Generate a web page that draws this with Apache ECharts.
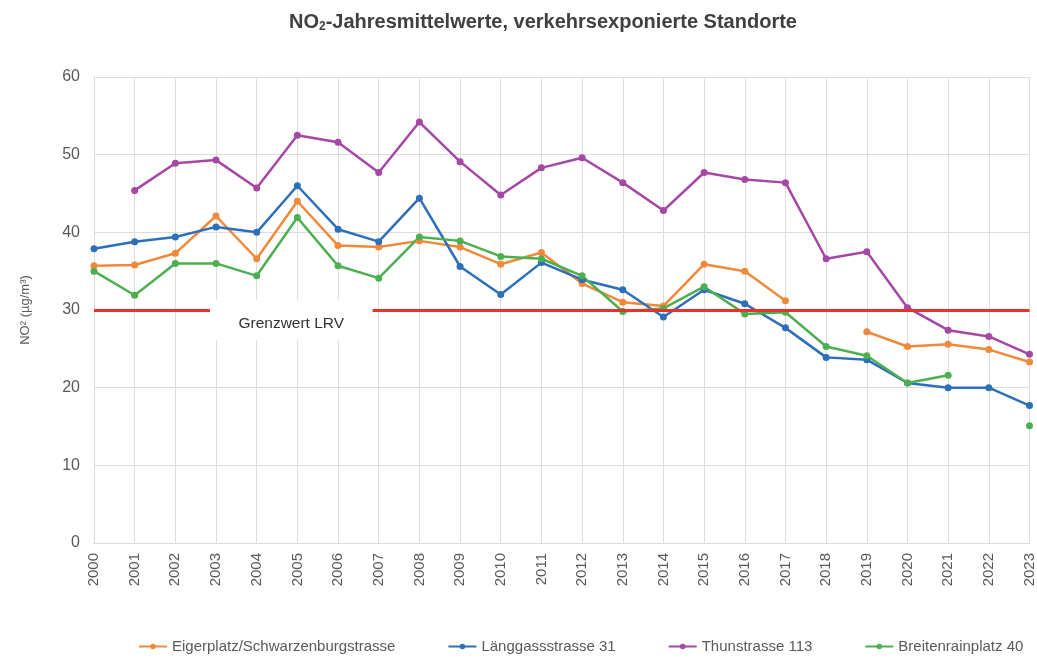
<!DOCTYPE html>
<html>
<head>
<meta charset="utf-8">
<script src="https://cdn.jsdelivr.net/npm/echarts@6/dist/echarts.min.js"></script>
<style>
  html, body { margin: 0; padding: 0; background: #fff; }
  #chart { width: 1037px; height: 662px; }
</style>
</head>
<body>
<div id="chart"></div>
<script>
  // Jahre
  var years = ['2000','2001','2002','2003','2004','2005','2006','2007','2008','2009','2010','2011',
               '2012','2013','2014','2015','2016','2017','2018','2019','2020','2021','2022','2023'];

  var eigerplatz = [35.7, 35.8, 37.3, 42.1, 36.6, 44.0, 38.3, 38.1, 38.9, 38.1, 35.9, 37.4,
                    33.4, 31.0, 30.5, 35.9, 35.0, 31.2, null, 27.2, 25.3, 25.6, 24.9, 23.3];
  var laenggasse = [37.9, 38.8, 39.4, 40.7, 40.0, 46.0, 40.4, 38.8, 44.4, 35.6, 32.0, 36.1,
                    33.9, 32.6, 29.1, 32.6, 30.8, 27.7, 23.9, 23.6, 20.6, 20.0, 20.0, 17.7];
  var thun = [null, 45.4, 48.9, 49.3, 45.7, 52.5, 51.6, 47.7, 54.2, 49.1, 44.8, 48.3,
              49.6, 46.4, 42.8, 47.7, 46.8, 46.4, 36.6, 37.5, 30.3, 27.4, 26.6, 24.3];
  var breitenrain = [35.0, 31.9, 36.0, 36.0, 34.4, 41.9, 35.7, 34.1, 39.4, 38.9, 36.9, 36.6,
                     34.4, 29.8, 30.2, 33.0, 29.5, 29.7, 25.3, 24.1, 20.6, 21.6, null, 15.1];

  var grenzwert = 30;
  var yTicks = [0, 10, 20, 30, 40, 50, 60];

  var chart = echarts.init(document.getElementById('chart'));

  function serie(name, data, color) {
    return {
      name: name,
      type: 'line',
      data: data,
      connectNulls: false,
      symbol: 'circle',
      symbolSize: 7,
      lineStyle: { width: 2.5, color: color },
      itemStyle: { color: color },
      z: 3
    };
  }

  var option = {
    animation: false,
    backgroundColor: '#fff',
    textStyle: { fontFamily: 'Liberation Sans, Arial, sans-serif' },
    title: {
      text: '{a|NO}{s|2}{a|-Jahresmittelwerte, verkehrsexponierte Standorte}',
      left: 284,
      top: 6,
      textStyle: {
        rich: {
          a: { fontSize: 20, fontWeight: 'bold', color: '#404040', fontFamily: 'Liberation Sans' },
          s: { fontSize: 12, fontWeight: 'bold', color: '#404040', verticalAlign: 'bottom', padding: [10, 0, 0, 0], fontFamily: 'Liberation Sans' }
        }
      }
    },
    grid: { left: 94, right: 7, top: 77, bottom: 119 },
    legend: {
      bottom: 8,
      left: 138,
      width: 899,
      padding: 0,
      itemGap: 52,
      itemWidth: 28,
      itemHeight: 7,
      textStyle: { fontSize: 15, color: '#595959' },
      data: ['Eigerplatz/Schwarzenburgstrasse', 'Länggassstrasse 31', 'Thunstrasse 113', 'Breitenrainplatz 40']
    },
    xAxis: {
      type: 'category',
      data: years,
      boundaryGap: false,
      axisLine: { lineStyle: { color: '#d9d9d9' } },
      axisTick: { show: false },
      splitLine: { show: true, lineStyle: { color: '#e0dcdc' } },
      axisLabel: { rotate: 90, color: '#595959', fontSize: 15, margin: 10 }
    },
    yAxis: {
      type: 'value',
      min: yTicks[0],
      max: yTicks[yTicks.length - 1],
      interval: 10,
      name: 'NO² (µg/m³)',
      nameLocation: 'middle',
      nameGap: 62,
      nameTextStyle: { color: '#595959', fontSize: 13 },
      axisLine: { show: true, lineStyle: { color: '#d9d9d9' } },
      axisTick: { show: false },
      splitLine: { lineStyle: { color: '#e0dcdc' } },
      axisLabel: { color: '#595959', fontSize: 16, margin: 14 }
    },
    series: [
      {
        name: 'Grenzwert',
        type: 'line',
        data: [],
        markLine: {
          silent: true,
          symbol: 'none',
          label: { show: false },
          lineStyle: { color: '#e8312a', width: 3, type: 'solid' },
          data: [[{ coord: [years[0], grenzwert] }, { coord: [years[years.length - 1], grenzwert] }]]
        },
        z: 2
      },
      serie('Eigerplatz/Schwarzenburgstrasse', eigerplatz, '#f08a3a'),
      serie('Länggassstrasse 31', laenggasse, '#2e6fba'),
      serie('Thunstrasse 113', thun, '#a547a5'),
      serie('Breitenrainplatz 40', breitenrain, '#4caf50')
    ]
  };
  chart.setOption(option);

  // weisses Feld mit Beschriftung über der Grenzwertlinie
  var p0 = chart.convertToPixel({ xAxisIndex: 0, yAxisIndex: 0 }, [2, grenzwert]);
  var p1 = chart.convertToPixel({ xAxisIndex: 0, yAxisIndex: 0 }, [3, grenzwert]);
  var step = p1[0] - p0[0];
  var x0 = p0[0] + 0.85 * step;
  var x1 = p0[0] + 4.85 * step;
  chart.setOption({
    graphic: [
      {
        type: 'rect',
        shape: { x: x0, y: p0[1] - 10, width: x1 - x0, height: 40 },
        style: { fill: '#fff' },
        z: 100
      },
      {
        type: 'text',
        x: (x0 + x1) / 2,
        y: p0[1] + 14,
        style: {
          text: 'Grenzwert LRV',
          fill: '#333',
          fontSize: 15.5,
          fontFamily: 'Liberation Sans',
          align: 'center',
          verticalAlign: 'middle'
        },
        z: 101
      }
    ]
  });
</script>
</body>
</html>
